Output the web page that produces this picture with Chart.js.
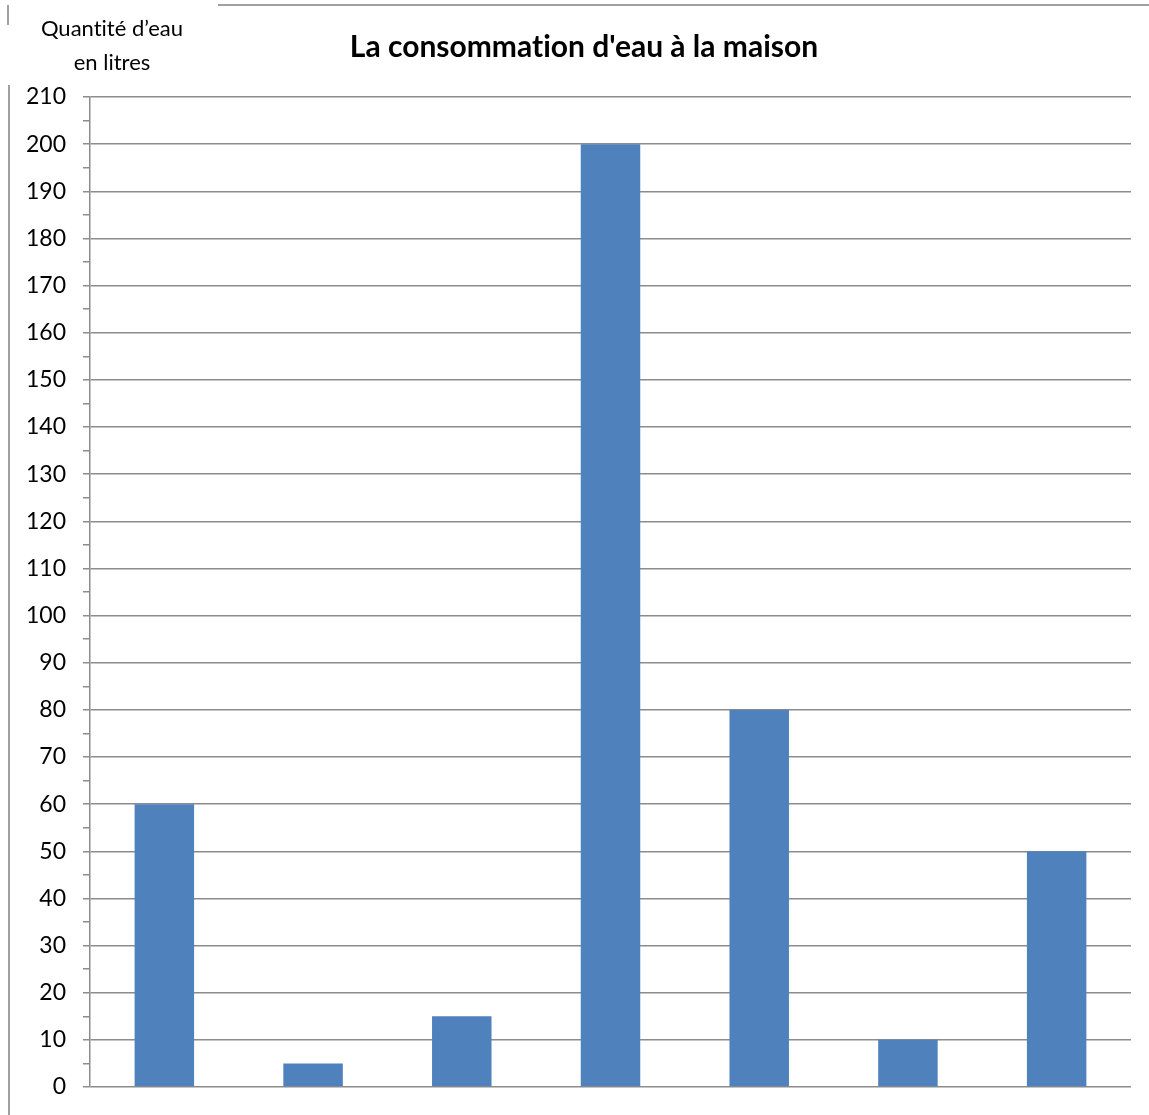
<!DOCTYPE html>
<html><head><meta charset="utf-8">
<script src="https://cdn.jsdelivr.net/npm/chart.js@4.4.0/dist/chart.umd.min.js"></script>
<style>
html,body{margin:0;padding:0;background:#fff;}
#wrap{position:relative;width:1149px;height:1115px;overflow:hidden;}
#c{position:absolute;left:0;top:0;}
.ylab{position:absolute;left:12px;width:200px;text-align:center;font-family:Lato,sans-serif;font-size:22px;color:#000;font-variant-ligatures:none;}
#title{position:absolute;left:584px;top:27px;transform:translateX(-50%);white-space:nowrap;font-family:Lato,sans-serif;font-weight:bold;font-size:30px;color:#000;font-variant-ligatures:none;}
.ln{position:absolute;background:#a0a0a0;}
</style></head>
<body>
<div id="wrap">
<canvas id="c" width="1149" height="1115" style="width:1149px;height:1115px"></canvas>
<div class="ln" style="left:7px;top:5px;width:2px;height:20px"></div>
<div class="ln" style="left:8px;top:85px;width:2px;height:1030px"></div>
<div class="ln" style="left:218px;top:4px;width:931px;height:2px"></div>
<div class="ylab" style="top:14px">Quantité d’eau</div>
<div class="ylab" style="top:48px">en litres</div>
<div id="title">La consommation d'eau à la maison</div>
</div>
<script>
const categories = ["A","B","C","D","E","F","G"];
const values = [60, 5, 15, 200, 80, 10, 50];
const yMin = 0, yMax = 210, yMinorStep = 5;

new Chart(document.getElementById('c'), {
  type: 'bar',
  data: { labels: categories, datasets: [{ data: values, backgroundColor: '#4F81BD', borderWidth: 0 }] },
  options: {
    responsive: false, animation: false, devicePixelRatio: 1,
    layout: { padding: { top: 97, right: 18, bottom: 28, left: 0 } },
    plugins: { legend: { display: false }, tooltip: { enabled: false } },
    datasets: { bar: { barPercentage: 0.4, categoryPercentage: 1.0 } },
    scales: {
      x: { display: false },
      y: {
        min: yMin, max: yMax,
        afterFit: s => { s.width = 90; s.paddingTop = 0; s.paddingBottom = 0; },
        border: { display: true, color: '#8c8c8c', width: 1.5 },
        grid: {
          color: ctx => (ctx.tick && ctx.tick.value % 10 === 0) ? '#8c8c8c' : 'rgba(0,0,0,0)',
          tickColor: '#8c8c8c', lineWidth: 1.5, tickLength: 7, drawTicks: true
        },
        ticks: {
          stepSize: yMinorStep, autoSkip: false, padding: 17, color: '#000',
          font: { family: 'Lato', size: 23 },
          callback: v => (v % 10 === 0 ? String(v) : '')
        }
      }
    }
  }
});
</script>
</body></html>
